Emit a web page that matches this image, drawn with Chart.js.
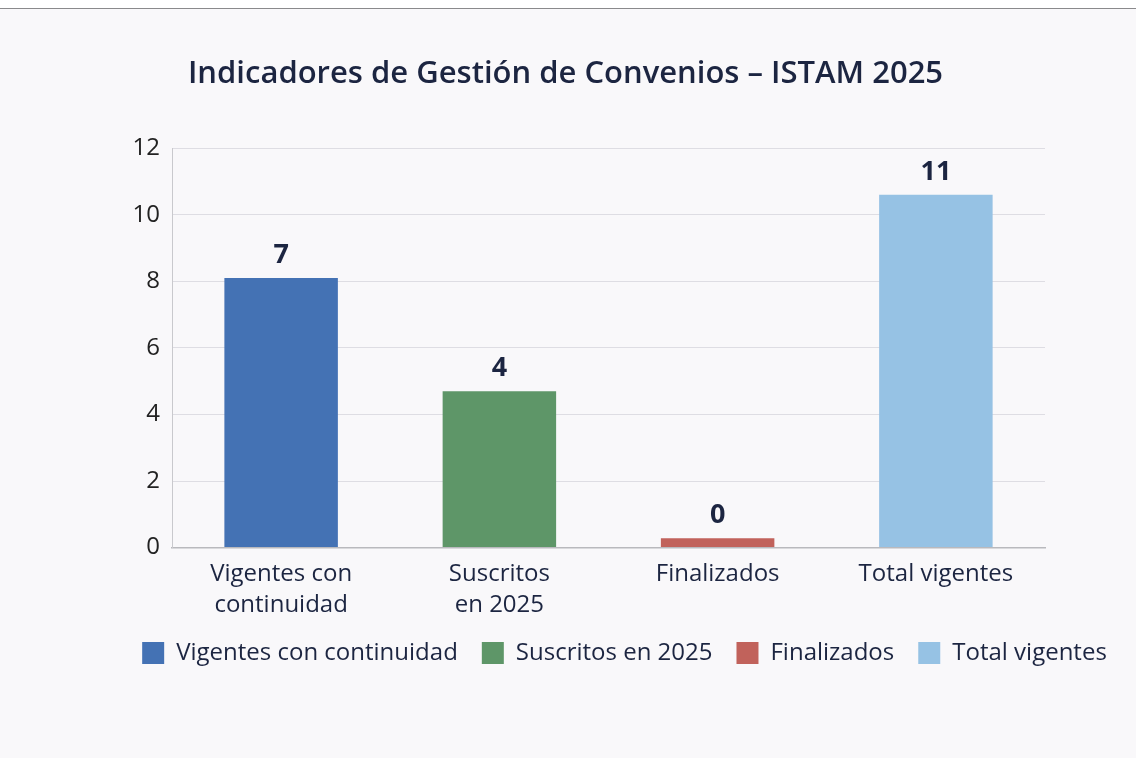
<!DOCTYPE html>
<html lang="es">
<head>
<meta charset="utf-8">
<title>Indicadores de Gestión de Convenios – ISTAM 2025</title>
<script src="https://cdn.jsdelivr.net/npm/chart.js@4.4.1/dist/chart.umd.min.js"></script>
<style>
  html, body { margin: 0; padding: 0; }
  body { width: 1136px; height: 758px; background: #f9f8fa; position: relative; overflow: hidden; }
  .topband { position: absolute; left: 0; top: 0; width: 1136px; height: 8px; background: #fff; border-bottom: 1px solid #8a8a8c; }
  #wrap { position: absolute; left: 0; top: 0; width: 1136px; height: 758px; }
</style>
</head>
<body>
<div class="topband"></div>
<div id="wrap"><canvas id="chart" width="1136" height="758"></canvas></div>
<script>
// Indicadores de convenios ISTAM 2025

const categories = ["Vigentes con continuidad", "Suscritos en 2025", "Finalizados", "Total vigentes"];
const axisLabels = [["Vigentes con", "continuidad"], ["Suscritos", "en 2025"], "Finalizados", "Total vigentes"];
// bar heights as drawn in the picture
const barValues = [8.1, 4.7, 0.28, 10.6];
// numbers printed above the bars
const valueLabels = ["7", "4", "0", "11"];
const yTicks = [0, 2, 4, 6, 8, 10, 12];
const barColors = ["#4472b4", "#5e9668", "#c1625b", "#96c2e4"];

const navy = "#1c2541";
const fontFamily = "'Open Sans', 'Noto Sans', sans-serif";

// ----------------------------------
// Value labels above bars
// ----------------------------------
const valueLabelPlugin = {
  id: "valueLabels",
  afterDatasetsDraw(chart) {
    const ctx = chart.ctx;
    const meta = chart.getDatasetMeta(0);
    ctx.save();
    ctx.font = "700 27px " + fontFamily;
    ctx.fillStyle = navy;
    ctx.textAlign = "center";
    ctx.textBaseline = "alphabetic";
    meta.data.forEach((bar, i) => {
      ctx.fillText(valueLabels[i], bar.x, bar.y - 15);
    });
    ctx.restore();
  }
};

// title centred on the page, legend pushed right, like in the reference
const boxShift = {
  id: "boxShift",
  afterLayout(chart) {
    const lg = chart.legend;
    if (lg) { lg.left += 92; lg.right += 92; }
    const tt = chart.titleBlock;
    if (tt) { tt.left += 33; tt.right += 33; }
  }
};

new Chart(document.getElementById("chart"), {
  type: "bar",
  data: {
    labels: axisLabels,
    datasets: [{
      label: "Convenios",
      data: barValues,
      backgroundColor: barColors,
      borderWidth: 0,
      categoryPercentage: 1,
      barPercentage: 0.52
    }]
  },
  options: {
    responsive: false,
    animation: false,
    layout: { padding: { left: 20, right: 91, top: 0, bottom: 83 } },
    plugins: {
      title: {
        display: true,
        text: "Indicadores de Gestión de Convenios – ISTAM 2025",
        color: navy,
        font: { family: fontFamily, size: 31, weight: "600" },
        padding: { top: 56, bottom: 55 }
      },
      legend: {
        position: "bottom",
        labels: {
          color: navy,
          font: { family: fontFamily, size: 24 },
          boxWidth: 22,
          boxHeight: 22,
          padding: 24,
          generateLabels: () => categories.map((c, i) => ({
            text: c,
            fillStyle: barColors[i],
            strokeStyle: barColors[i],
            lineWidth: 0,
            hidden: false,
            index: i,
            fontColor: navy
          }))
        },
        onClick: () => {}
      },
      tooltip: { enabled: false }
    },
    scales: {
      x: {
        afterFit: s => { s.height -= 15; },
        grid: { display: false, drawTicks: false },
        border: { display: true, color: "#b9b9bd", width: 1.5 },
        ticks: {
          color: navy,
          padding: 11,
          maxRotation: 0,
          autoSkip: false,
          font: { family: fontFamily, size: 24, lineHeight: 1.3 }
        }
      },
      y: {
        min: 0,
        max: 12,
        afterFit: s => { s.width = 152; },
        afterBuildTicks: s => { s.ticks = yTicks.map(v => ({ value: v })); },
        grid: { color: "#dedde3", lineWidth: 1, drawTicks: false },
        border: { display: true, color: "#c9c9cd", width: 1 },
        ticks: {
          color: "#222",
          padding: 12,
          font: { family: fontFamily, size: 24 }
        }
      }
    }
  },
  plugins: [valueLabelPlugin, boxShift]
});
</script>
</body>
</html>
